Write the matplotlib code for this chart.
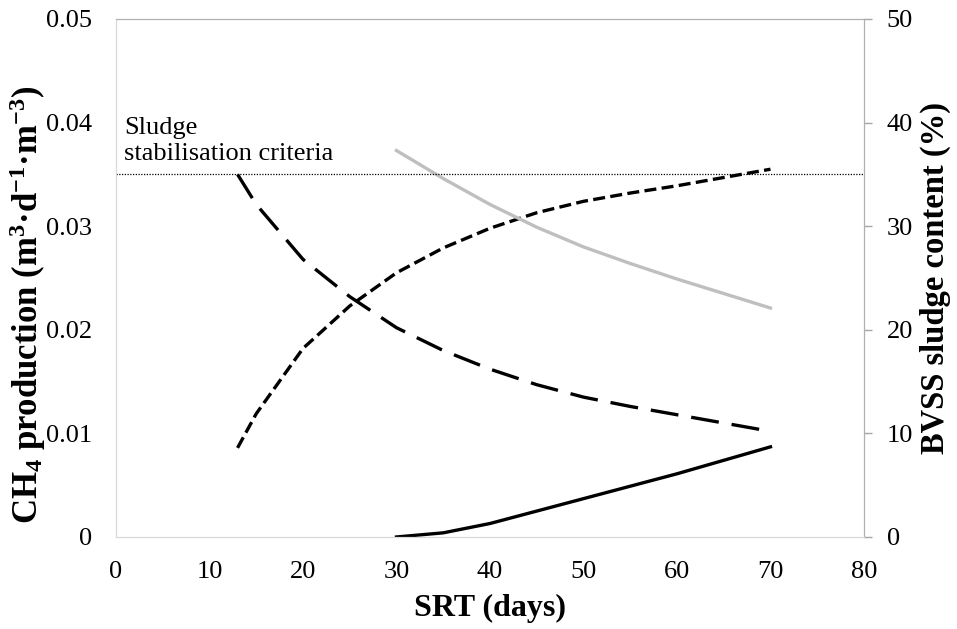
import matplotlib
matplotlib.use("Agg")
import matplotlib.pyplot as plt

plt.rcParams['font.family'] = ['Liberation Serif', 'DejaVu Serif']
plt.rcParams['mathtext.default'] = 'regular'

# SRT (days)
srt_a = [13, 15, 20, 25, 30, 35, 40, 45, 50, 55, 60, 65, 70]
srt_b = [30, 35, 40, 45, 50, 55, 60, 65, 70]

# CH4 production (m3/d/m3), left axis
ch4_short = [0.0086, 0.0119, 0.0182, 0.0223, 0.0255, 0.0279, 0.0298,
             0.0313, 0.0324, 0.0332, 0.0339, 0.0347, 0.0355]
ch4_solid = [0.0, 0.0004, 0.0013, 0.0025, 0.0037, 0.0049, 0.0061, 0.0074, 0.0087]

# BVSS sludge content (%), right axis
bvss_long = [35.0, 32.1, 26.8, 23.2, 20.2, 18.0, 16.2, 14.7, 13.5, 12.6, 11.8, 11.0, 10.2]
bvss_grey = [37.3, 34.6, 32.1, 29.9, 28.0, 26.4, 24.9, 23.5, 22.1]

criteria = 35.0  # %

xticks = [0, 10, 20, 30, 40, 50, 60, 70, 80]
yticks_left = [0, 0.01, 0.02, 0.03, 0.04, 0.05]
ylabels_left = ['0', '0.01', '0.02', '0.03', '0.04', '0.05']
yticks_right = [0, 10, 20, 30, 40, 50]

fig = plt.figure(figsize=(9.57, 6.29), dpi=100)
ax = fig.add_axes([0.1212, 0.1463, 0.7816, 0.8235])
ax2 = ax.twinx()

lw = 2.4
ax.plot(srt_a, ch4_short, color='black', lw=lw, linestyle=(0, (3.6, 1.6)),
        dash_capstyle='butt')
ax.plot(srt_b, ch4_solid, color='black', lw=lw)
ax2.plot(srt_a, bvss_long, color='black', lw=lw, linestyle=(0, (8.4, 3.9)),
         dash_capstyle='butt')
ax2.plot(srt_b, bvss_grey, color='#bfbfbf', lw=lw)
ax2.axhline(criteria, color='black', lw=0.9, linestyle=(0, (1, 1.2)))

ax.set_xlim(0, 80)
ax.set_ylim(0, 0.05)
ax2.set_ylim(0, 50)

ax.set_xticks(xticks)
ax.set_yticks(yticks_left)
ax.set_yticklabels(ylabels_left)
ax2.set_yticks(yticks_right)

ax.tick_params(axis='y', length=0, labelsize=19, pad=17)
ax.tick_params(axis='x', length=0, labelsize=19, pad=17)
ax2.tick_params(axis='y', length=5.8, width=1, color='#a6a6a6', labelsize=19,
                pad=10.5)

for a in (ax, ax2):
    for side in ('left', 'bottom'):
        a.spines[side].set_color('#d9d9d9')
    for side in ('top', 'right'):
        a.spines[side].set_color('#b0b0b0')

ax.set_xlabel('SRT (days)', fontsize=23, fontweight='bold', labelpad=8)
ax.set_ylabel('CH$_4$ production (m$^3$·d$^{-1}$·m$^{-3}$)', fontsize=25,
              fontweight='bold')
ax.yaxis.set_label_coords(-0.091, 0.449)
ax2.set_ylabel('BVSS sludge content (%)', fontsize=23.5, fontweight='bold',
               labelpad=5)

ax2.text(0.9, 36.4, 'Sludge\nstabilisation criteria', fontsize=19,
         ha='left', va='baseline', linespacing=1.2)

fig.savefig('out.png', dpi=100)
